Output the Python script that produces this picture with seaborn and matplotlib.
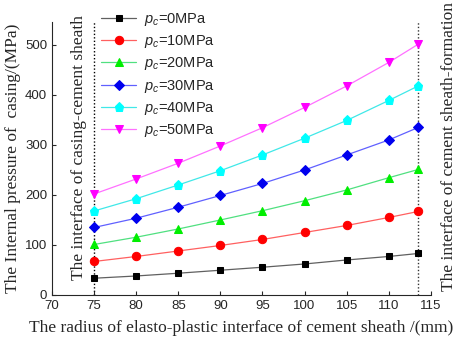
import matplotlib
matplotlib.use("Agg")
import matplotlib.pyplot as plt
import seaborn as sns
import pandas as pd

radius = [75, 80, 85, 90, 95, 100, 105, 110, 113.5]
p0 = [33.5, 38, 43.5, 49.5, 55.5, 62, 70, 77, 83]
p10 = [67, 77, 88, 99, 111, 125, 139, 155, 167]
p20 = [101, 115.5, 132, 150, 168.5, 188.5, 210, 234.5, 251]
p30 = [135, 153.5, 175.5, 199, 223, 250, 280, 310, 335]
p40 = [168, 192.5, 220, 248.5, 280, 313.5, 349, 389, 418]
p50 = [202, 232, 263.5, 298, 334.5, 375, 418, 465, 501.5]
labels = [r"$p_c$=0MPa", r"$p_c$=10MPa", r"$p_c$=20MPa",
          r"$p_c$=30MPa", r"$p_c$=40MPa", r"$p_c$=50MPa"]
series = [p0, p10, p20, p30, p40, p50]

marker_colors = ["#000000", "#ff0000", "#00ee00", "#0000ee", "#00ffff", "#ff00ff"]
line_colors = ["#606060", "#ff6060", "#50e080", "#6060ff", "#40e8e8", "#ff70ff"]
markers = ["s", "o", "^", "D", "p", "v"]
msizes = [5, 6, 6, 5, 6.5, 6]

sns.set_style("ticks")
plt.rcParams["font.family"] = ["Liberation Sans", "DejaVu Sans"]
plt.rcParams["mathtext.fontset"] = "custom"
plt.rcParams["mathtext.it"] = "Liberation Sans:italic"
plt.rcParams["mathtext.rm"] = "Liberation Sans"

fig = plt.figure(figsize=(4.57, 3.43), dpi=100)
ax = fig.add_axes([0.1138, 0.140, 0.829, 0.796])

for ys, lab, mc, lc, mk, ms in zip(series, labels, marker_colors, line_colors, markers, msizes):
    df = pd.DataFrame({"r": radius, "p": ys})
    sns.lineplot(data=df, x="r", y="p", ax=ax, color=lc, linewidth=0.9,
                 marker=mk, markersize=ms, markerfacecolor=mc,
                 markeredgecolor=mc, label=lab)

ax.axvline(75, color="black", linestyle=(0, (1, 1.5)), linewidth=1.0, zorder=0)
ax.axvline(113.5, color="#333333", linestyle=(0, (1, 1.5)), linewidth=1.0, zorder=0)

ax.set_xlim(70, 115)
ax.set_ylim(0, 546)
ax.set_xticks([70, 75, 80, 85, 90, 95, 100, 105, 110, 115])
ax.set_yticks([0, 100, 200, 300, 400, 500])
ax.tick_params(direction="in", length=3, labelsize=9.5, width=0.8)
for s in ["top", "right"]:
    ax.spines[s].set_visible(False)
for s in ["left", "bottom"]:
    ax.spines[s].set_linewidth(0.8)

serif = ["Liberation Serif", "DejaVu Serif"]
ax.set_xlabel("The radius of elasto-plastic interface of cement sheath /(mm)",
              family=serif, fontsize=12.5, labelpad=6)
ax.set_ylabel("The Internal pressure of  casing/(MPa)", family=serif,
              fontsize=12.5, labelpad=3)

ax.text(73.2, 294, "The interface of casing-cement sheath", family=serif,
        fontsize=12.5, rotation=90, ha="center", va="center")
ax.text(117.1, 296, "The interface of cement sheath-formation", family=serif,
        fontsize=12.5, rotation=90, ha="center", va="center", clip_on=False)

leg = ax.legend(loc="upper left", bbox_to_anchor=(0.115, 1.062), frameon=False,
                fontsize=10.5, handlelength=2.4, handletextpad=0.5,
                labelspacing=0.36, borderaxespad=0)

fig.savefig("out.png", dpi=100)
